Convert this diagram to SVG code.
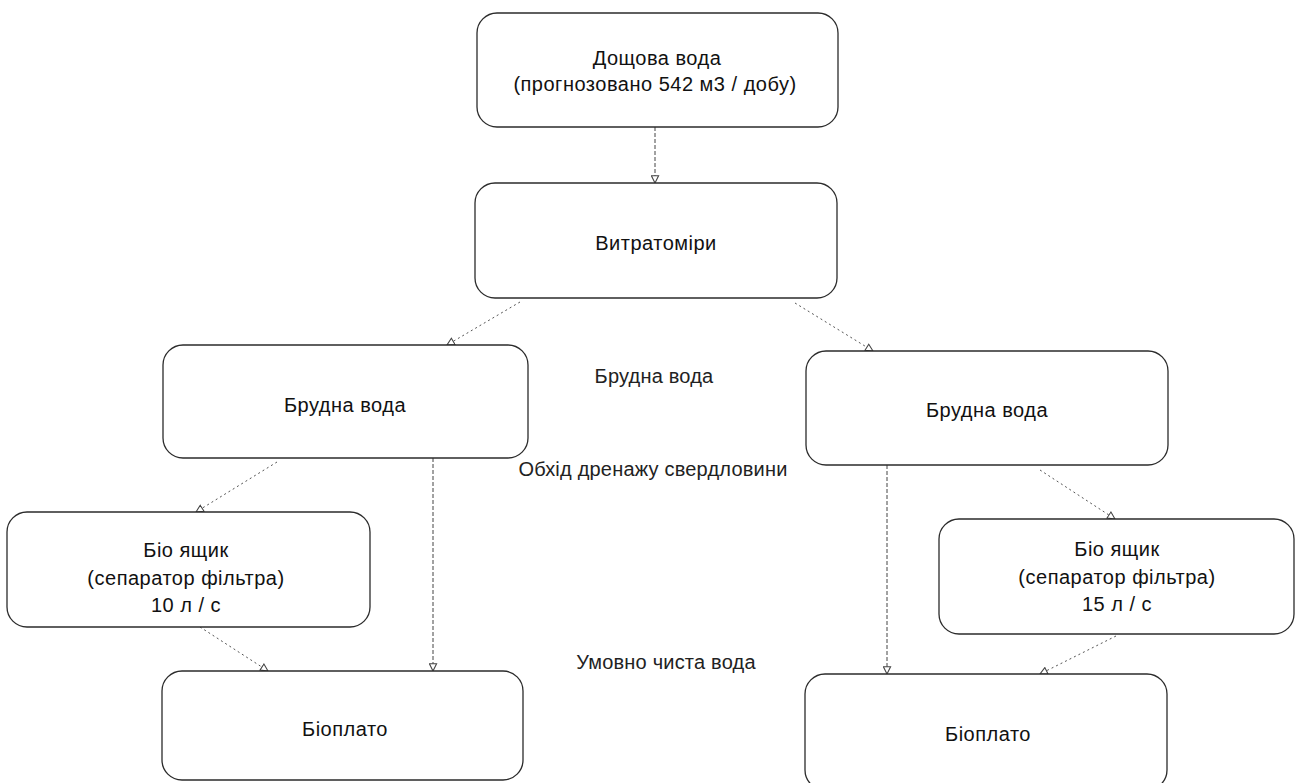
<svg xmlns="http://www.w3.org/2000/svg" width="1296" height="783" viewBox="0 0 1296 783">
<defs>
<style>
.box{fill:#fff;stroke:#2b2b2b;stroke-width:1.3}
.t{font-family:"Liberation Sans",Arial,sans-serif;font-size:20px;fill:#111;text-anchor:middle;dominant-baseline:central;letter-spacing:0.5px}
.lbl{font-family:"Liberation Sans",Arial,sans-serif;font-size:20px;fill:#222;text-anchor:middle;dominant-baseline:central;letter-spacing:0.2px}
.c{fill:none;stroke:#555;stroke-width:1;stroke-dasharray:2 3;marker-end:url(#ah)}
.cv{fill:none;stroke:#444;stroke-width:1;stroke-dasharray:4 2;marker-end:url(#ah)}
</style>
<marker id="ah" viewBox="0 0 10 10" refX="9" refY="5" markerWidth="9" markerHeight="9" markerUnits="userSpaceOnUse" orient="auto">
<path d="M1,1 L9,5 L1,9 Z" fill="#fff" stroke="#444" stroke-width="1.2"/>
</marker>
</defs>
<rect width="1296" height="783" fill="#fff"/>
<g id="connectors">
<path class="cv" d="M655,127 L655,183"/>
<path class="c" d="M520,302 L447,345"/>
<path class="c" d="M795,303 L873,351"/>
<path class="c" d="M277,462 L196,512"/>
<path class="cv" d="M433,458 L433,671"/>
<path class="c" d="M200,627 L268,671"/>
<path class="c" d="M1040,470 L1115,519"/>
<path class="cv" d="M887,465 L887,674"/>
<path class="c" d="M1116,636 L1040,674"/>
</g>
<g id="n1"><rect class="box" x="477" y="13" width="361" height="114" rx="20"/>
<text class="t" x="657" y="58">Дощова вода</text><text class="t" x="655" y="84">(прогнозовано 542 м3 / добу)</text></g>
<g id="n2"><rect class="box" x="475" y="183" width="362" height="115" rx="20"/>
<text class="t" x="656" y="243">Витратоміри</text></g>
<g id="n3"><rect class="box" x="163" y="345" width="365" height="113" rx="20"/>
<text class="t" x="345" y="405">Брудна вода</text></g>
<g id="n4"><rect class="box" x="806" y="351" width="362" height="114" rx="20"/>
<text class="t" x="987" y="410">Брудна вода</text></g>
<g id="n5"><rect class="box" x="7" y="512" width="363" height="115" rx="20"/>
<text class="t" x="186" y="550">Біо ящик</text><text class="t" x="186" y="578">(сепаратор фільтра)</text><text class="t" x="186" y="605">10 л / с</text></g>
<g id="n6"><rect class="box" x="939" y="519" width="355" height="115" rx="20"/>
<text class="t" x="1117" y="549">Біо ящик</text><text class="t" x="1117" y="577">(сепаратор фільтра)</text><text class="t" x="1117" y="604">15 л / с</text></g>
<g id="n7"><rect class="box" x="162" y="671" width="361" height="109" rx="20"/>
<text class="t" x="345" y="729">Біоплато</text></g>
<g id="n8"><rect class="box" x="805" y="674" width="362" height="116" rx="20"/>
<text class="t" x="988" y="734">Біоплато</text></g>
<g id="labels">
<text class="lbl" x="654" y="376">Брудна вода</text>
<text class="lbl" x="653" y="469">Обхід дренажу свердловини</text>
<text class="lbl" x="666" y="662">Умовно чиста вода</text>
</g>
</svg>
